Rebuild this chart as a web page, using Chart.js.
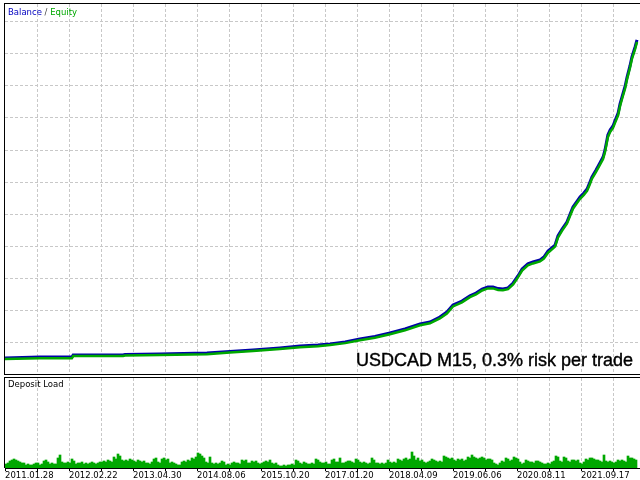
<!DOCTYPE html>
<html>
<head>
<meta charset="utf-8">
<script src="https://cdn.jsdelivr.net/npm/chart.js@4.4.0/dist/chart.umd.min.js"></script>
<style>
  body { margin:0; width:640px; height:480px; background:#fff; position:relative; overflow:hidden; }
  #topPanel { position:absolute; left:4px; top:3px; width:635px; height:370px; border:1px solid #000; border-right:none; }
  #loadPanel { position:absolute; left:4px; top:377px; width:635px; height:90px; border-top:1px solid #000; border-left:1px solid #000; }
  #loadBox { position:absolute; left:0; top:0; width:635px; height:102px; }
  .lbl { position:absolute; font-family:"DejaVu Sans"; font-size:8.5px; line-height:10px; white-space:nowrap; color:#000; }
  #note { position:absolute; right:7px; top:351px; font-family:"Liberation Sans"; font-size:18px; line-height:18px; color:#000; white-space:nowrap; -webkit-text-stroke:0.4px #000; }
</style>
</head>
<body>
<div id="topPanel"><canvas id="balanceChart"></canvas></div>
<div id="loadPanel"><div id="loadBox"><canvas id="loadChart"></canvas></div></div>
<div class="lbl" style="left:8px;top:7px"><span style="color:#0000c0">Balance</span><span style="color:#444"> / </span><span style="color:#00a800">Equity</span></div>
<div class="lbl" style="left:8px;top:379px">Deposit Load</div>
<div id="note">USDCAD M15, 0.3% risk per trade</div>
<script>
// deal number on the x axis, balance / equity in thousands
const trades = [0,109,209,213,369,375,484,631,703,775,
  859,922,978,1016,1063,1109,1156,1203,1250,1297,
  1328,1359,1381,1400,1428,1453,1472,1491,1509,1525,
  1541,1556,1572,1588,1603,1616,1634,1650,1672,1684,
  1697,1719,1728,1741,1756,1766,1775,1788,1797,1809,
  1819,1828,1834,1847,1859,1869,1875,1884,1891,1900,
  1906,1916,1922,1928,1938,1944,1953,1959,1969,1975];

const balance = [10.0,10.6,10.6,11.9,11.9,12.2,12.5,13.1,14.1,15.0,
  16.3,17.5,18.1,18.8,20.0,21.9,23.4,25.6,28.1,31.3,
  32.5,35.6,38.8,43.1,45.6,48.8,50.6,53.1,54.4,54.4,
  53.4,53.1,53.8,56.9,61.3,65.6,68.8,70.0,71.3,73.1,
  76.9,80.6,86.3,90.6,95.0,100.0,104.4,108.1,110.6,113.1,
  115.6,120.0,123.1,127.5,131.9,135.6,140.0,149.4,152.5,155.0,
  158.1,163.1,168.8,173.1,180.0,185.6,192.5,198.1,204.4,208.8];

const equity = [9.3,9.9,9.8,11.2,11.2,11.5,11.8,12.4,13.4,14.3,
  15.6,16.7,17.4,18.1,19.3,21.1,22.7,24.8,27.3,30.5,
  31.7,34.7,37.8,42.2,44.8,48.0,49.7,52.2,53.5,53.5,
  52.5,52.3,53.0,56.0,60.4,64.7,67.9,69.1,70.4,72.1,
  75.8,79.6,85.2,89.6,94.0,98.9,103.3,107.0,109.5,112.0,
  114.4,118.8,122.0,126.3,130.7,134.4,138.7,148.0,151.3,153.8,
  156.8,161.7,167.4,171.7,178.6,184.3,191.2,196.8,203.1,207.6];

// deposit load (%) per bin of deals
const dealsPerBin = 6.25;
const depositLoad = [
  4,5, 7,8,9,8,7, 6,5,5, 3,4,3,3,4, 5,5,3, 4,7,8,6, 4,5,4,4, 10,13, 6,5,5,6,5, 9,7,
  4,5,5,6,4,5,4,5,6,5,4,5,6, 6,7,6,8,7,6, 11,9,14,12, 8,7,8,7,9,8, 7,6,8,7,6,7,5, 5,4,6, 9,10,6,5,
  9,10,8,9, 5,6,5,4, 3,3, 6,7,6, 8,7, 10,9,11, 15,14, 12,10,6, 5,11, 5,4,5,4,5, 7,6, 3,4,3,
  5,6,5,5,4, 8,7,8, 5,5, 7,6,7, 5,4,5,6, 7,6,8, 5,4,5,3, 2,2,3,2, 3,3,4,3, 8,7, 5,4,6,5,4, 4,5,4, 9,8,6,
  5,5,6,4, 4,8, 9,6,6, 10,5, 5,6, 7,7, 6,5, 9,8, 6,5,6, 5,4,5, 10,8, 5,5,4, 5,4,5, 8,6, 5,6,5,
  9,8, 7,9, 10,8,9, 16,12, 8,10, 7,8, 6,5,6,7, 9,8, 7,6,7,6, 12,11,10, 9,10, 8,7,9, 8,9,7, 8,11,10, 13,11, 10,9,10,
  11,10, 8,9, 9,8, 5,4, 3,5, 7,6, 10,9, 7,8, 11,10,9, 6,4, 5,8, 7,6, 6,5,7, 7,6, 5,4, 4,5,4, 6,7,
  12,11, 7,6, 11,10, 7,6,8, 8,7,8, 5,4,6, 9,8,10, 10,9,8, 8,7, 6,13, 7,6,7, 6,5,6, 8,7,8, 7,6, 12,10, 10,9, 8
];

const tickLabels = ["2011.01.28","2012.02.22","2013.04.30","2014.08.06","2015.10.20",
  "2017.01.20","2018.04.09","2019.06.06","2020.08.11","2021.09.17"];
const dealsPerLabel = 200;
const lastDeal = 1984.375;

const GRID = "#c8c8c8";
const gridColor = (ctx) => (ctx.tick && ctx.tick.value === 0 ? "rgba(0,0,0,0)" : GRID);

new Chart(document.getElementById("balanceChart"), {
  type: "line",
  data: {
    datasets: [
      {
        label: "Equity",
        data: trades.map((t, i) => ({ x: t, y: equity[i] })),
        borderColor: "#00a800",
        borderWidth: 2.5,
        pointRadius: 0,
        tension: 0,
      },
      {
        label: "Balance",
        data: trades.map((t, i) => ({ x: t, y: balance[i] })),
        borderColor: "#0000a8",
        borderWidth: 3,
        pointRadius: 0,
        tension: 0,
      },
    ],
  },
  options: {
    animation: false,
    responsive: true,
    maintainAspectRatio: false,
    layout: { padding: 0 },
    plugins: { legend: { display: false }, tooltip: { enabled: false } },
    scales: {
      x: {
        type: "linear",
        min: 0,
        max: lastDeal,
        ticks: { display: false, stepSize: 100, includeBounds: false, autoSkip: false },
        grid: { color: gridColor, drawTicks: false },
        border: { display: false, dash: [3, 2] },
        afterFit: (s) => { s.height = 0; },
      },
      y: {
        min: 0,
        max: 231.25,
        ticks: { display: false, stepSize: 20, includeBounds: false },
        grid: { color: gridColor, drawTicks: false },
        border: { display: false, dash: [3, 2] },
        afterFit: (s) => { s.width = 0; },
      },
    },
  },
});

new Chart(document.getElementById("loadChart"), {
  type: "bar",
  data: {
    datasets: [
      {
        label: "Deposit Load",
        data: depositLoad.map((v, i) => ({ x: (i + 0.5) * dealsPerBin, y: v })),
        backgroundColor: "#00a800",
        borderWidth: 0,
        barPercentage: 1,
        categoryPercentage: 1,
      },
    ],
  },
  options: {
    animation: false,
    responsive: true,
    maintainAspectRatio: false,
    layout: { padding: 0 },
    plugins: { legend: { display: false }, tooltip: { enabled: false } },
    scales: {
      x: {
        type: "linear",
        min: 0,
        max: lastDeal,
        offset: false,
        ticks: {
          stepSize: 100,
          includeBounds: false,
          autoSkip: false,
          maxRotation: 0,
          minRotation: 0,
          align: "start",
          padding: 0,
          color: "#000",
          font: { family: "DejaVu Sans", size: 8.5 },
          callback: (v) => (v % dealsPerLabel === 0 ? tickLabels[v / dealsPerLabel] : ""),
        },
        grid: { color: gridColor, offset: false, tickLength: 3, tickColor: "#000", tickBorderDash: [] },
        border: { display: true, color: "#000", width: 1, dash: [3, 2] },
        afterFit: (s) => { s.height = 12; },
      },
      y: {
        display: false,
        min: 0,
        max: 90,
      },
    },
  },
});
</script>
</body>
</html>
